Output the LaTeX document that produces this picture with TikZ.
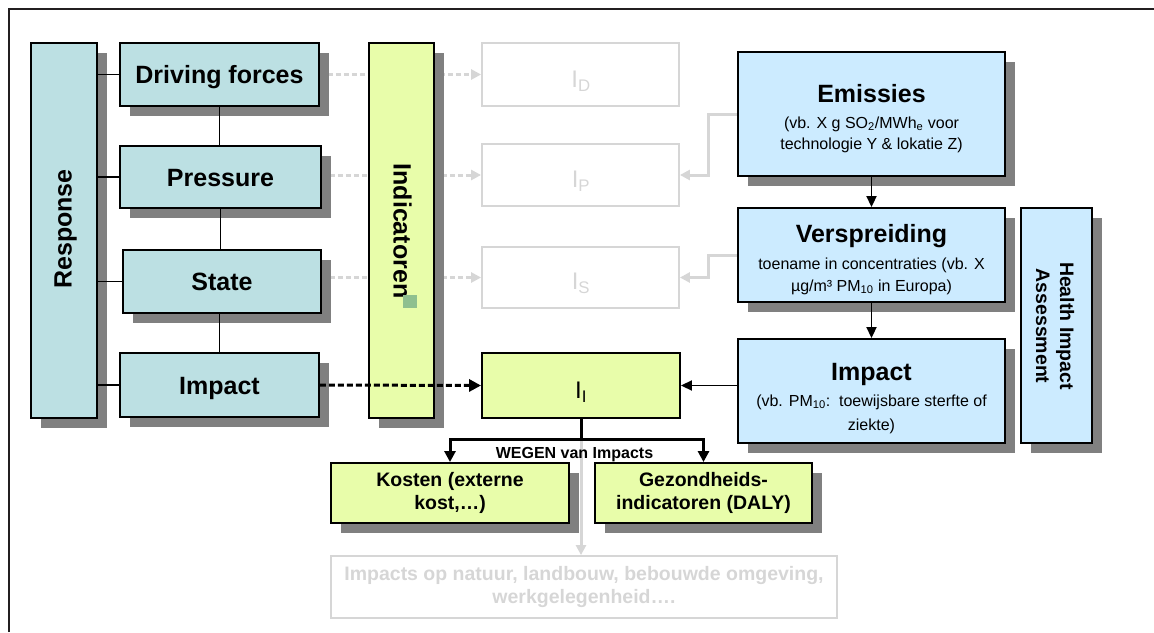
\documentclass[tikz,border=0pt]{standalone}
\usepackage{fontspec}
\setmainfont{Liberation Sans}
\usetikzlibrary{arrows.meta,shadows}
\definecolor{dpsirfill}{HTML}{BCE0E3}
\definecolor{indfill}{HTML}{E8FDAA}
\definecolor{hiafill}{HTML}{CCEBFF}
\definecolor{shgray}{HTML}{808080}
\definecolor{fadeline}{HTML}{D6D6D6}
\definecolor{fadetext}{HTML}{D6D6D6}
\definecolor{framecol}{HTML}{231F20}
\definecolor{dotgreen}{HTML}{8FC08F}
\pgfdeclarelayer{bg}
\pgfsetlayers{bg,main}
\begin{document}
\begin{tikzpicture}[x=1pt,y=-1pt,
  sbox/.style={draw=black, line width=1.9pt, rectangle, inner sep=0pt,
     drop shadow={shadow xshift=10pt, shadow yshift=-10pt, fill=shgray, opacity=1}},
  fbox/.style={draw=fadeline, line width=1.8pt, rectangle, inner sep=0pt},
  titlef/.style={font=\fontsize{25}{30}\selectfont\bfseries},
  dbox/.style={sbox, fill=dpsirfill, titlef, text height=18pt, text depth=0pt},
  subf/.style={font=\fontsize{16}{22}\selectfont},
  midf/.style={font=\fontsize{19.5}{23}\selectfont\bfseries, align=center},
  itxt/.style={font=\fontsize{24}{28}\selectfont},
  conn/.style={draw=black, line width=1.9pt},
  tip/.style={-{Triangle[length=11pt,width=10pt]}},
  fadeconn/.style={draw=fadeline, line width=3pt, -{Triangle[length=10pt,width=10pt]}}
]
\useasboundingbox (0,0) rectangle (1154,632);
\draw[framecol, line width=2pt] (9,632) -- (9,9) -- (1154,9);

% DPSIR column
\node[dbox, minimum width=66pt, minimum height=375pt] (resp) at (64,230.5) {};
\node[titlef, rotate=90] (resptxt) at (65.5,229) {Response};
\node[dbox, minimum width=199pt, minimum height=63pt] (df) at (219.5,74.5) {Driving forces};
\node[dbox, minimum width=201pt, minimum height=62pt] (pr) at (220.5,177) {Pressure};
\node[dbox, minimum width=198pt, minimum height=63pt] (st) at (222,281.5) {State};
\node[dbox, minimum width=199pt, minimum height=64pt] (im) at (219.5,385) {Impact};

% Indicatoren
\node[sbox, fill=indfill, minimum width=65pt, minimum height=375pt] (ind) at (401.5,230.5) {};
\node[titlef, rotate=-90] (indtxt) at (402.5,231) {Indicatoren};
\node[fill=dotgreen, minimum size=13.5pt, inner sep=0pt] (dot) at (410,301.5) {};

% faded indicator boxes
\node[fbox, minimum width=197pt, minimum height=63pt] (id) at (580.5,74.5) {};
\node[itxt, text=fadetext] (idt) at (581,81) {I\textsubscript{D}};
\node[fbox, minimum width=197pt, minimum height=62pt] (ip) at (580.5,175) {};
\node[itxt, text=fadetext] (ipt) at (581,181) {I\textsubscript{P}};
\node[fbox, minimum width=197pt, minimum height=61pt] (is) at (580.5,277.5) {};
\node[itxt, text=fadetext] (ist) at (581,283) {I\textsubscript{S}};

% I_I
\node[draw=black, line width=1.9pt, fill=indfill, minimum width=198pt, minimum height=65pt, inner sep=0pt] (ii) at (581,385.5) {};
\node[itxt] (iit) at (581,392) {I\textsubscript{I}};

% right chain
\node[sbox, fill=hiafill, minimum width=267pt, minimum height=124pt] (em) at (871.5,114) {};
\node[titlef, anchor=base] (emt) at (871.5,102) {Emissies};
\node[subf, anchor=base] (em1) at (871.5,128) {(vb. X g SO\textsubscript{2}/MWh\textsubscript{e} voor};
\node[subf, anchor=base] (em2) at (871.5,149) {technologie Y \& lokatie Z)};

\node[sbox, fill=hiafill, minimum width=267pt, minimum height=94pt] (ve) at (871.5,255) {};
\node[titlef, anchor=base] (vet) at (871.5,242) {Verspreiding};
\node[subf, anchor=base] (ve1) at (871.5,269) {toename in concentraties (vb. X};
\node[subf, anchor=base] (ve2) at (871.5,291) {µg/m³ PM\textsubscript{10} in Europa)};

\node[sbox, fill=hiafill, minimum width=267pt, minimum height=104pt] (ir) at (871.5,391) {};
\node[titlef, anchor=base] (irt) at (871.5,380) {Impact};
\node[subf, anchor=base] (ir1) at (871.5,406) {(vb. PM\textsubscript{10}:\ \ toewijsbare sterfte of};
\node[subf, anchor=base] (ir2) at (871.5,430) {ziekte)};

\node[sbox, fill=hiafill, minimum width=71pt, minimum height=235pt] (hia) at (1056.5,325.5) {};
\node[font=\fontsize{19.5}{24}\selectfont\bfseries, align=center, rotate=-90] (hiat) at (1055,326) {Health Impact\\Assessment};

% bottom
\node[sbox, fill=indfill, midf, minimum width=238pt, minimum height=60pt] (ko) at (450,493) {Kosten (externe\\kost,…)};
\node[sbox, fill=indfill, midf, minimum width=217pt, minimum height=60pt] (ge) at (703.5,493) {Gezondheids-\\indicatoren (DALY)};
\node[fbox, text=fadetext, font=\fontsize{19.5}{22.5}\selectfont\bfseries, align=center, minimum width=506pt, minimum height=62pt] (io) at (584,587) {Impacts op natuur, landbouw, bebouwde omgeving,\\werkgelegenheid….};
\node[font=\fontsize{16}{19}\selectfont\bfseries, anchor=base] (weg) at (574.5,458) {WEGEN van Impacts};
\coordinate (wj) at (581,439);

% faded connectors (behind)
\begin{pgfonlayer}{bg}
\draw[fadeconn, dash pattern=on 5pt off 3pt] (df.east) -- (id.west);
\draw[fadeconn, dash pattern=on 5pt off 3pt] (pr.east |- ip.west) -- (ip.west);
\draw[fadeconn, dash pattern=on 5pt off 3pt] (st.east |- is.west) -- (is.west);
\draw[fadeconn] (em.west) -- ++(-29,0) |- (ip.east);
\draw[fadeconn] (ve.west) -- ++(-29,0) |- (is.east);
\draw[fadeconn] (wj) -- (wj |- io.north);
\end{pgfonlayer}

% black connectors
\draw[conn] (resp.east |- df.west) -- (df.west);
\draw[conn] (resp.east |- pr.west) -- (pr.west);
\draw[conn] (resp.east |- st.west) -- (st.west);
\draw[conn] (resp.east |- im.west) -- (im.west);
\draw[conn] (df.south) -- (df.south |- pr.north);
\draw[conn] (pr.south) -- (pr.south |- st.north);
\draw[conn] (im.north |- st.south) -- (im.north);
\draw[conn, tip] (em.south) -- (ve.north);
\draw[conn, tip] (ve.south) -- (ir.north);
\draw[conn, tip] (ir.west |- ii.east) -- (ii.east);
\draw[line width=3pt, dash pattern=on 6pt off 3pt, -{Triangle[length=12pt,width=12pt]}] (im.east) -- (ii.west);
\draw[line width=3pt, line join=miter] (ii.south) -- (wj);
\draw[line width=3pt, -{Triangle[length=11pt,width=11pt]}] (wj) -| (ko.north);
\draw[line width=3pt, -{Triangle[length=11pt,width=11pt]}] (wj) -| (ge.north);
\end{tikzpicture}
\end{document}
